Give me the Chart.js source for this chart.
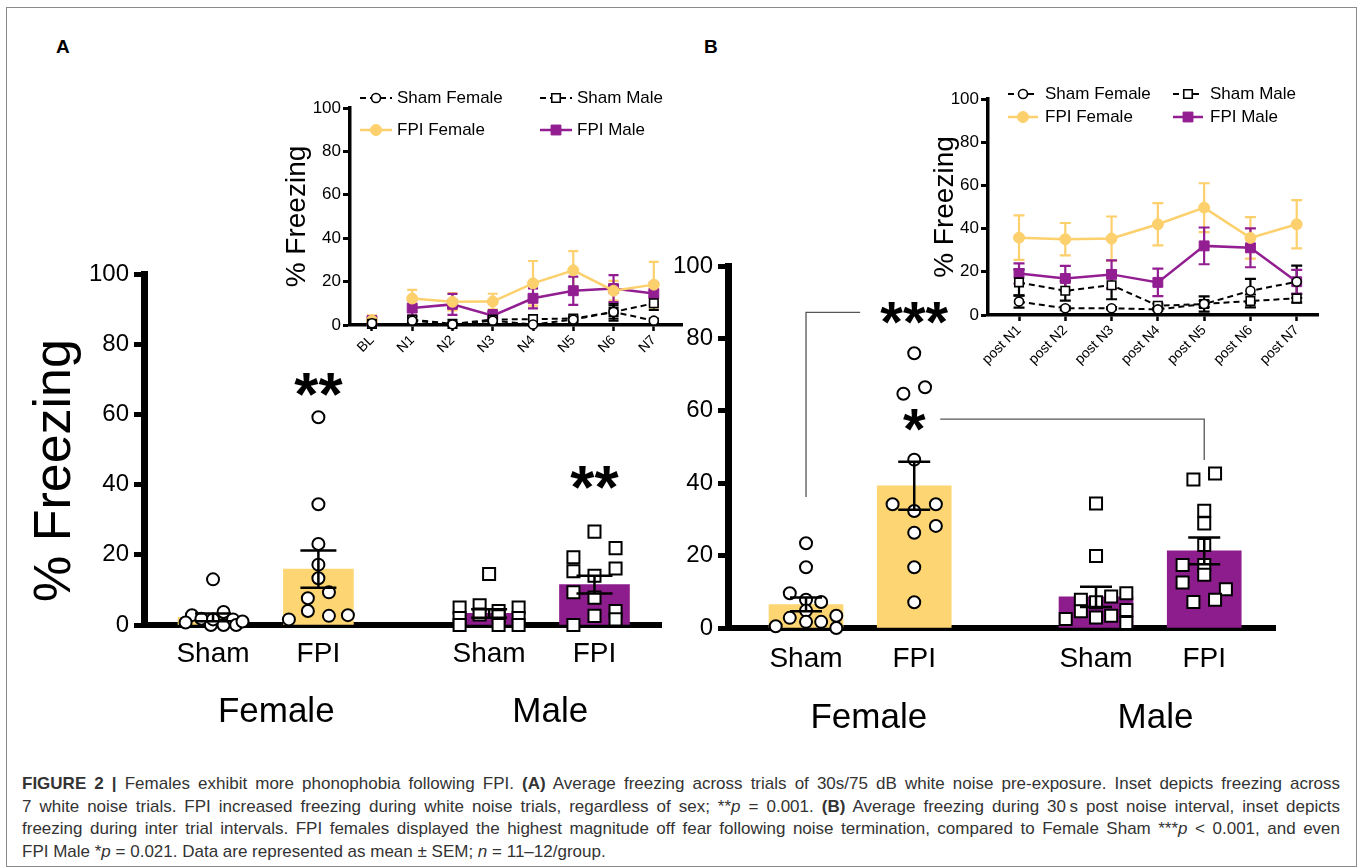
<!DOCTYPE html>
<html><head><meta charset="utf-8">
<script src="https://cdn.jsdelivr.net/npm/chart.js@4.4.1/dist/chart.umd.min.js"></script>
<style>
html,body{margin:0;padding:0;background:#fff;}
#fig{position:relative;width:1358px;height:868px;overflow:hidden;background:#fff;font-family:"Liberation Sans",Arial,sans-serif;}
#frame{position:absolute;left:6px;top:7px;width:1351px;height:860px;border:1px solid #8a8a8a;box-sizing:border-box;}
canvas.cv{position:absolute;}
.pl{position:absolute;font-weight:bold;font-size:19px;color:#000;}
#caption{position:absolute;left:22px;top:773px;width:1318px;font-family:"Liberation Sans",Arial,sans-serif;font-size:17px;color:#333;line-height:22.5px;}
#caption .jl{text-align:justify;text-align-last:justify;white-space:normal;}
</style></head>
<body>
<div id="fig">
<div id="frame"></div>
<div class="pl" style="left:56px;top:36px;">A</div>
<div class="pl" style="left:704px;top:36px;">B</div>
<canvas class="cv" id="cA" width="672" height="520" style="left:0px;top:230px;"></canvas>
<canvas class="cv" id="cB" width="618" height="520" style="left:672px;top:230px;"></canvas>
<canvas class="cv" id="iA" width="428" height="300" style="left:262px;top:80px;"></canvas>
<canvas class="cv" id="iB" width="440" height="330" style="left:896px;top:72px;"></canvas>
<div id="caption">
<div class="jl"><b>FIGURE 2 |</b> Females exhibit more phonophobia following FPI. <b>(A)</b> Average freezing across trials of 30s/75 dB white noise pre-exposure. Inset depicts freezing across</div>
<div class="jl">7 white noise trials. FPI increased freezing during white noise trials, regardless of sex; **<i>p</i> = 0.001. <b>(B)</b> Average freezing during 30&#8201;s post noise interval, inset depicts</div>
<div class="jl">freezing during inter trial intervals. FPI females displayed the highest magnitude off fear following noise termination, compared to Female Sham ***<i>p</i> &lt; 0.001, and even</div>
<div>FPI Male *<i>p</i> = 0.021. Data are represented as mean ± SEM; <i>n</i> = 11–12/group.</div>
</div>
</div>
<script>
// ---------------- DATA ----------------
const groupLabels = ['Sham', 'FPI', 'Sham', 'FPI'];
const sexLabels = ['Female', 'Male'];
const yTitle = '% Freezing';

// Panel A: freezing during white noise (bar = mean, error = SEM)
const groupPosA = [1, 2, 3.62, 4.62];
const meanA = [2.2, 15.9, 3.3, 11.5];
const semA = [1.1, 5.3, 1.2, 2.5];
const shamFemA = [13, 2.8, 1.8, 0, 1.6, 3.7, 0, 1.6, 0, 1, 0.7];
const shamFemA_jit = [0, -0.2, -0.11, -0.02, 0, 0.1, 0.1, 0.19, 0.22, 0.28, -0.26];
const fpiFemA = [59.2, 34.4, 23.1, 17.2, 13.3, 9.3, 7.6, 4, 2.6, 2.8, 1.6];
const fpiFemA_jit = [0, 0, 0, 0, 0, 0.1, -0.1, -0.1, 0.1, 0.28, -0.28];
const shamMaleA = [14.5, 5, 5.6, 4, 5, 2, 3, 2.5, 2, 0, 0, 0];
const shamMaleA_jit = [0, -0.28, -0.09, 0.09, 0.28, -0.28, -0.09, 0.09, 0.28, -0.28, 0.09, 0.28];
const fpiMaleA = [26.6, 19.3, 21.9, 15.3, 14, 16.1, 9.3, 7.8, 4, 2.6, 1.6, 0];
const fpiMaleA_jit = [0, -0.2, 0.2, -0.2, 0, 0.2, -0.2, 0, 0.2, 0, 0.2, -0.2];

// Panel B: freezing during post-noise interval
const groupPosB = [1, 2, 3.68, 4.68];
const meanB = [6.5, 39.3, 8.6, 21.3];
const semB = [1.9, 6.6, 2.8, 3.7];
const shamFemB = [23.4, 16.8, 9.6, 7.8, 7.2, 4.8, 2.8, 3.4, 0.5, 1.7, 1.7, 0];
const shamFemB_jit = [0, 0, -0.15, 0, 0.14, 0, -0.15, 0.28, -0.28, 0.14, 0, 0.28];
const fpiFemB = [75.9, 64.7, 66.5, 46.5, 34.2, 32.3, 34.2, 28.2, 26.3, 16.8, 7.1];
const fpiFemB_jit = [0, -0.1, 0.1, 0, -0.2, 0, 0.2, 0.2, 0, 0, 0];
const shamMaleB = [34.4, 19.9, 7.8, 7.1, 8.7, 9.6, 2.5, 4.6, 2.9, 3.4, 5, 1.4];
const shamMaleB_jit = [0, 0, -0.14, 0, 0.14, 0.28, -0.28, -0.14, 0, 0.14, 0.28, 0.28];
const fpiMaleB = [42.7, 41, 32.4, 28.9, 22.9, 17.4, 17.4, 14.7, 12.6, 10.7, 7.2, 7.8];
const fpiMaleB_jit = [0.1, -0.1, 0, 0, 0, -0.2, 0, 0, -0.2, 0.2, -0.1, 0.1];

// Inset A: freezing across white-noise trials (mean, SEM)
const trialsA = ['BL', 'N1', 'N2', 'N3', 'N4', 'N5', 'N6', 'N7'];
const insA_shamFem = [0.8, 2, 0.3, 2, 0.2, 2.5, 6, 2];
const insA_shamFem_sem = [0.8, 1.5, 0.5, 1, 0.5, 1, 4, 1];
const insA_shamMale = [0.5, 2.5, 0.5, 2.5, 2.7, 3, 6, 10];
const insA_shamMale_sem = [0.5, 1.5, 0.5, 1, 1, 1, 3, 3];
const insA_fpiFem = [2, 12.2, 10.7, 10.8, 19.2, 25.2, 15.8, 18.6];
const insA_fpiFem_sem = [2.5, 4, 4, 3.6, 10.3, 8.8, 4.5, 10.5];
const insA_fpiMale = [2, 7.8, 9.5, 4.3, 12.3, 15.8, 16.8, 14.5];
const insA_fpiMale_sem = [1.5, 3.5, 4.8, 2.6, 4.6, 6.5, 6.2, 5];

// Inset B: freezing across inter-trial intervals
const trialsB = ['post N1', 'post N2', 'post N3', 'post N4', 'post N5', 'post N6', 'post N7'];
const insB_shamFem = [6.2, 3.1, 3.1, 2.6, 5.1, 11.2, 15.4];
const insB_shamFem_sem = [2.8, 0.8, 0.5, 0.5, 1.5, 5.5, 7.5];
const insB_shamMale = [15.1, 11.2, 13.8, 4.3, 5.1, 6.5, 7.7];
const insB_shamMale_sem = [6, 4.5, 6.5, 1, 3.5, 3, 2];
const insB_fpiFem = [35.8, 35.1, 35.4, 42, 49.7, 35.7, 42];
const insB_fpiFem_sem = [10.3, 7.5, 10.2, 9.8, 11.3, 9.6, 11.2];
const insB_fpiMale = [19.2, 16.9, 18.8, 15.1, 32, 31.1, 15.4];
const insB_fpiMale_sem = [4.7, 5.8, 6.5, 6.4, 8.5, 9, 5.5];

const seriesNames = ['Sham Female', 'Sham Male', 'FPI Female', 'FPI Male'];

// ---------------- STYLE ----------------
const REG = '"Liberation Sans", Arial, sans-serif';
const YEL = '#FDD673', PUR = '#8D1D8C';
const LYEL = '#FCD06C', LPUR = '#921E91';

// ---------------- PLUGINS ----------------
function drawErrors(chart, opts) {
  const ctx = chart.ctx, ys = chart.scales.y;
  (opts.sets || []).forEach(s => {
    const meta = chart.getDatasetMeta(s.dataset);
    const data = chart.data.datasets[s.dataset].data;
    meta.data.forEach((el, i) => {
      const d = data[i];
      const v = (d !== null && typeof d === 'object') ? d.y : d;
      const e = s.sem[i];
      if (v == null || e == null) return;
      const x = el.x, yt = ys.getPixelForValue(v + e), yb = ys.getPixelForValue(v - e);
      const c = Array.isArray(s.color) ? s.color[i] : s.color;
      ctx.save();
      ctx.strokeStyle = c; ctx.lineWidth = s.width;
      ctx.beginPath();
      ctx.moveTo(x, yt); ctx.lineTo(x, yb);
      ctx.moveTo(x - s.cap / 2, yt); ctx.lineTo(x + s.cap / 2, yt);
      ctx.moveTo(x - s.cap / 2, yb); ctx.lineTo(x + s.cap / 2, yb);
      ctx.stroke();
      ctx.restore();
    });
  });
}
const errorBarPlugin = {
  id: 'errorBars',
  beforeDatasetsDraw(chart, args, opts) { if (opts.under) drawErrors(chart, opts); },
  afterDatasetsDraw(chart, args, opts) { if (!opts.under) drawErrors(chart, opts); }
};

const annotPlugin = {
  id: 'annots',
  afterDraw(chart, args, opts) {
    const ctx = chart.ctx, xs = chart.scales.x, ys = chart.scales.y, ca = chart.chartArea;
    ctx.save();
    (opts.lines || []).forEach(l => {
      ctx.strokeStyle = l.color || '#000'; ctx.lineWidth = l.width || 1;
      ctx.beginPath();
      l.pts.forEach((p, i) => {
        const px = xs.getPixelForValue(p[0]), py = ys.getPixelForValue(p[1]);
        if (i) ctx.lineTo(px, py); else ctx.moveTo(px, py);
      });
      ctx.stroke();
    });
    (opts.texts || []).forEach(t => {
      ctx.fillStyle = '#000'; ctx.font = t.font;
      ctx.textAlign = 'center'; ctx.textBaseline = 'middle';
      ctx.fillText(t.text, xs.getPixelForValue(t.x), ys.getPixelForValue(t.y));
    });
    (opts.groups || []).forEach(g => {
      ctx.fillStyle = '#000'; ctx.font = g.font;
      ctx.textAlign = 'center'; ctx.textBaseline = 'middle';
      ctx.fillText(g.text, xs.getPixelForValue(g.x), ca.bottom + g.dy);
    });
    if (opts.ytitle) {
      const t = opts.ytitle;
      ctx.translate(ca.left + t.dx, ys.getPixelForValue(t.y));
      ctx.rotate(-Math.PI / 2);
      ctx.fillStyle = '#000'; ctx.font = t.font;
      ctx.textAlign = 'center'; ctx.textBaseline = 'middle';
      ctx.fillText(t.text, 0, 0);
    }
    ctx.restore();
  }
};

const insetLegendPlugin = {
  id: 'insetLegend',
  afterDraw(chart, args, o) {
    if (!o.slots) return;
    const ctx = chart.ctx, ca = chart.chartArea;
    chart.data.datasets.forEach((ds, i) => {
      const s = o.slots[i];
      const x0 = ca.left + o.cols[s[0]], y = ca.top + o.rows[s[1]];
      ctx.save();
      ctx.strokeStyle = ds.borderColor; ctx.lineWidth = ds.borderWidth;
      ctx.setLineDash(ds.borderDash || []);
      ctx.beginPath(); ctx.moveTo(x0, y); ctx.lineTo(x0 + o.iconW, y); ctx.stroke();
      ctx.setLineDash([]);
      ctx.fillStyle = ds.pointBackgroundColor; ctx.strokeStyle = ds.pointBorderColor;
      ctx.lineWidth = ds.pointBorderWidth;
      Chart.helpers.drawPoint(ctx, {pointStyle: ds.pointStyle, radius: ds.pointRadius, borderWidth: ds.pointBorderWidth, rotation: 0}, x0 + o.iconW / 2, y);
      ctx.fillStyle = '#000'; ctx.font = o.font;
      ctx.textAlign = 'left'; ctx.textBaseline = 'middle';
      ctx.fillText(ds.label, x0 + o.iconW + o.gap[s[0]], y);
      ctx.restore();
    });
  }
};

Chart.register(errorBarPlugin, annotPlugin, insetLegendPlugin);

// ---------------- HELPERS ----------------
function pts(vals, jit, pos) { return vals.map((v, i) => ({x: pos + jit[i], y: v})); }
function mainChart(id, pos, mean, sem, groups, o) {
  const sc = (data, style, r) => ({type: 'scatter', data: data, pointStyle: style, pointRadius: r,
    borderColor: '#000', backgroundColor: '#fff', borderWidth: 2, order: 1, clip: false});
  const ds = [
    {type: 'bar', data: mean.map((m, i) => ({x: pos[i], y: m})), backgroundColor: [YEL, YEL, PUR, PUR],
     barThickness: o.barW, order: 3, borderWidth: 0},
    sc(pts(groups[0][0], groups[0][1], pos[0]), 'circle', o.cr),
    sc(pts(groups[1][0], groups[1][1], pos[1]), 'circle', o.cr),
    sc(pts(groups[2][0], groups[2][1], pos[2]), 'rect', o.sr),
    sc(pts(groups[3][0], groups[3][1], pos[3]), 'rect', o.sr)
  ];
  return new Chart(document.getElementById(id), {
    type: 'bar',
    data: {datasets: ds},
    options: {
      responsive: false, animation: false, devicePixelRatio: 1,
      layout: {padding: {top: o.top, right: o.right, left: 0, bottom: 0}},
      plugins: {
        legend: {display: false}, tooltip: {enabled: false},
        errorBars: {sets: [{dataset: 0, sem: sem, color: '#000', width: 2.5, cap: o.cap}]},
        annots: o.annots
      },
      scales: {
        x: {
          type: 'linear', min: o.xmin, max: o.xmax, offset: false,
          afterBuildTicks: s => { s.ticks = pos.map(v => ({value: v})); },
          afterFit: s => { s.height = o.xh; },
          ticks: {autoSkip: false, maxRotation: 0, minRotation: 0, color: '#000', padding: o.xpad,
                  font: {family: REG, size: 28}, callback: (v, i) => groupLabels[i]},
          grid: {display: false, drawTicks: false},
          border: {display: true, width: 6, color: '#000'}
        },
        y: {
          min: 0, max: 100,
          afterBuildTicks: s => { s.ticks = [0, 20, 40, 60, 80, 100].map(v => ({value: v})); },
          afterFit: s => { s.width = o.yw; },
          ticks: {color: '#000', padding: 5, font: {family: REG, size: 24}},
          grid: {display: true, drawOnChartArea: false, drawTicks: true, tickLength: 10, tickWidth: 5, color: '#000'},
          border: {display: true, width: 7, color: '#000'},
          title: {display: false}
        }
      }
    }
  });
}

function insetChart(id, labels, series, sems, o) {
  const mk = (i, data) => {
    const sham = i < 2;
    const col = sham ? '#000' : (i === 2 ? LYEL : LPUR);
    return {
      label: seriesNames[i], type: 'line',
      data: data.map((v, k) => ({x: k, y: v})),
      borderColor: col, borderWidth: sham ? 2 : 2.5, borderDash: sham ? [6, 4] : [],
      pointStyle: (i % 2 === 0) ? 'circle' : 'rect',
      pointRadius: sham ? (i === 0 ? 4.5 : 6) : (i === 2 ? 5.5 : 7),
      pointBackgroundColor: sham ? '#fff' : col, pointBorderColor: col,
      pointBorderWidth: sham ? 1.6 : 1, clip: false, tension: 0,
      segment: o.gapFirst ? {borderColor: c => c.p0DataIndex === 0 ? 'rgba(0,0,0,0)' : col} : undefined
    };
  };
  const ds = series.map((s, i) => mk(i, s));
  return new Chart(document.getElementById(id), {
    type: 'line',
    data: {datasets: ds},
    options: {
      responsive: false, animation: false, devicePixelRatio: 1,
      layout: {padding: {top: o.top, right: o.right, left: 0, bottom: 0}},
      plugins: {
        legend: {display: false}, tooltip: {enabled: false},
        errorBars: {under: true, sets: sems.map((s, i) => ({dataset: i, sem: s, color: i < 2 ? '#000' : (i === 2 ? LYEL : LPUR), width: 2.2, cap: o.cap}))},
        insetLegend: o.legend
      },
      scales: {
        x: {
          type: 'linear', min: o.xmin, max: o.xmax,
          afterBuildTicks: s => { s.ticks = labels.map((l, k) => ({value: k})); },
          afterFit: s => { s.height = o.xh; },
          ticks: {autoSkip: false, maxRotation: 45, minRotation: 45, color: '#000', padding: 1,
                  font: {family: REG, size: 14}, callback: (v, i) => labels[i]},
          grid: {display: true, drawOnChartArea: false, drawTicks: true, tickLength: 6, tickWidth: 2.5, color: '#000'},
          border: {display: true, width: 3.5, color: '#000'}
        },
        y: {
          min: 0, max: 100,
          afterBuildTicks: s => { s.ticks = [0, 20, 40, 60, 80, 100].map(v => ({value: v})); },
          afterFit: s => { s.width = o.yw; },
          ticks: {color: '#000', padding: 2, font: {family: REG, size: 17}},
          grid: {display: true, drawOnChartArea: false, drawTicks: true, tickLength: 7, tickWidth: 3, color: '#000'},
          border: {display: true, width: 3.5, color: '#000'},
          title: {display: true, text: yTitle, color: '#000', font: {family: REG, size: 28}, padding: {top: o.titlePad, bottom: 0}}
        }
      }
    }
  });
}

// ---------------- CHARTS ----------------
mainChart('cA', groupPosA, meanA, semA,
  [[shamFemA, shamFemA_jit], [fpiFemA, fpiFemA_jit], [shamMaleA, shamMaleA_jit], [fpiMaleA, fpiMaleA_jit]],
  {top: 44, right: 4, xh: 125, xpad: 12, yw: 144, xmin: 0.345, xmax: 5.256, barW: 70, cr: 6, sr: 8.5, cap: 36,
   annots: {
     texts: [{text: '**', x: groupPosA[1], y: 64.7, font: 'bold 62px ' + REG},
             {text: '**', x: groupPosA[3], y: 38.2, font: 'bold 62px ' + REG}],
     groups: [{text: sexLabels[0], x: 1.6, dy: 87, font: '35px ' + REG},
              {text: sexLabels[1], x: 4.2, dy: 87, font: '35px ' + REG}],
     ytitle: {text: yTitle, dx: -88, y: 44, font: '52px ' + REG}
   }});

mainChart('cB', groupPosB, meanB, semB,
  [[shamFemB, shamFemB_jit], [fpiFemB, fpiFemB_jit], [shamMaleB, shamMaleB_jit], [fpiMaleB, fpiMaleB_jit]],
  {top: 36, right: 15, xh: 122, xpad: 14, yw: 56, xmin: 0.279, xmax: 5.334, barW: 74, cr: 6, sr: 8.5, cap: 32,
   annots: {
     lines: [{pts: [[1, 36.2], [1, 87.2], [1.5, 87.2]], color: '#555', width: 1.3},
             {pts: [[2.24, 57.7], [4.68, 57.7], [4.68, 46.4]], color: '#555', width: 1.3}],
     texts: [{text: '***', x: 2, y: 83.4, font: 'bold 58px ' + REG},
             {text: '*', x: 2, y: 53.9, font: 'bold 58px ' + REG}],
     groups: [{text: sexLabels[0], x: 1.58, dy: 90, font: '35px ' + REG},
              {text: sexLabels[1], x: 4.23, dy: 90, font: '35px ' + REG}]
   }});

insetChart('iA', trialsA,
  [insA_shamFem, insA_shamMale, insA_fpiFem, insA_fpiMale],
  [insA_shamFem_sem, insA_shamMale_sem, insA_fpiFem_sem, insA_fpiMale_sem],
  {top: 28, right: 7, xh: 55, yw: 88, xmin: -0.545, xmax: 7.70, cap: 10, titlePad: 18, gapFirst: true,
   legend: {slots: [[0, 0], [1, 0], [0, 1], [1, 1]], cols: [10, 190], rows: [-10, 22], iconW: 32, gap: [5, 5], font: '17px ' + REG}});

insetChart('iB', trialsB,
  [insB_shamFem, insB_shamMale, insB_fpiFem, insB_fpiMale],
  [insB_shamFem_sem, insB_shamMale_sem, insB_fpiFem_sem, insB_fpiMale_sem],
  {top: 27, right: 18, xh: 87, yw: 92, xmin: -0.67, xmax: 6.46, cap: 11, titlePad: 32, gapFirst: false,
   legend: {slots: [[0, 0], [1, 0], [0, 1], [1, 1]], cols: [20, 185], rows: [-5, 18], iconW: 30, gap: [7, 7], font: '17px ' + REG}});
</script>
</body></html>
